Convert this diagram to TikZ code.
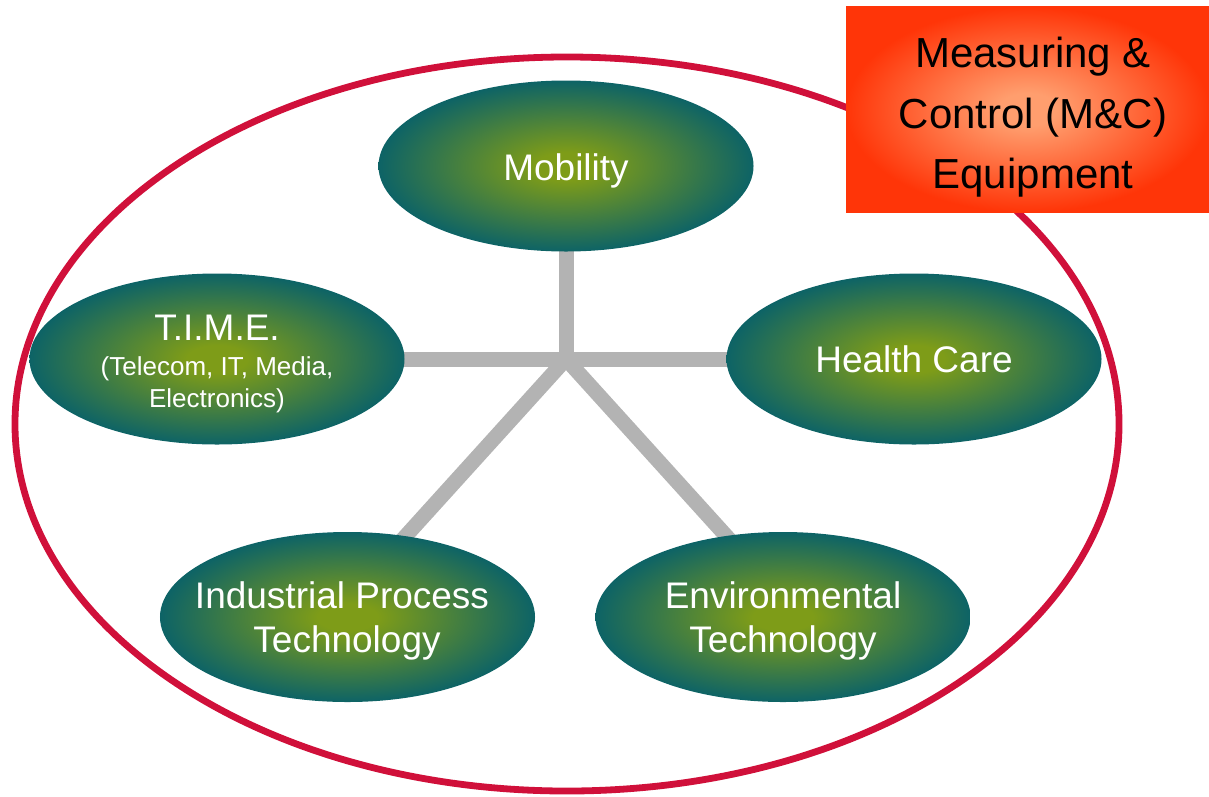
\documentclass[tikz,border=0pt]{standalone}
\usepackage{fontspec}
\setmainfont{Liberation Sans}
\usetikzlibrary{shapes.geometric,backgrounds}
\definecolor{ringred}{HTML}{D0103A}
\definecolor{spokegray}{HTML}{B3B3B3}
\definecolor{gin}{HTML}{7E9C18}
\definecolor{gout}{HTML}{0D6366}
\definecolor{bin}{HTML}{FF9E6E}
\definecolor{bout}{HTML}{FF3508}
\pgfdeclareradialshading{blobshade}{\pgfpoint{0bp}{0bp}}{color(0bp)=(gin); color(4bp)=(gin); color(25bp)=(gout); color(50bp)=(gout)}
\pgfdeclareradialshading{boxshade}{\pgfpoint{0bp}{0bp}}{color(0bp)=(bin); color(4bp)=(bin); color(25bp)=(bout); color(50bp)=(bout)}
\newcommand{\bigtxt}{\fontsize{18.5bp}{22bp}\selectfont}
\newcommand{\smalltxt}{\fontsize{13bp}{16bp}\selectfont}
\newcommand{\boxtxt}{\fontsize{21bp}{30bp}\selectfont}
\begin{document}
\begin{tikzpicture}[x=0.5bp, y=-0.5bp,
  blob/.style={ellipse, minimum width=187.5bp, minimum height=85.5bp, inner sep=0pt, shading=blobshade, shade},
  wtxt/.style={anchor=base, inner sep=0pt, text=white, font=\bigtxt},
  stxt/.style={anchor=base, inner sep=0pt, text=white, font=\smalltxt},
  btxt/.style={anchor=base, inner sep=0pt, text=black, font=\boxtxt},
  spokeline/.style={draw=spokegray, line width=7.5bp, line cap=butt},
  ringline/.style={draw=ringred, line width=3.4bp}]
\useasboundingbox (0,0) rectangle (1209,796);
% outer ring
\node[ringline, ellipse, minimum width=552bp, minimum height=367bp, inner sep=0pt] (ring) at (567,424) {};
% focus areas
\node[blob] (mob) at (566,166) {};
\node[blob] (time) at (217,359) {};
\node[blob] (health) at (914,359) {};
\node[blob, minimum height=85bp] (ind) at (347.5,617) {};
\node[blob, minimum height=85bp] (env) at (783,617) {};
% hub and spoke ends
\coordinate (hub) at (566,359);
\coordinate (ie) at (384,560);
\coordinate (ee) at (748,560);
\begin{pgfonlayer}{background}
  \draw[spokeline] (mob.center) -- (hub);
  \draw[spokeline] (time.center) -- (health.center);
  \draw[spokeline] (hub) -- (ie);
  \draw[spokeline] (hub) -- (ee);
\end{pgfonlayer}
% texts
\node[wtxt] (mobT) at (566,180) {Mobility};
\node[wtxt] (timeT) at (217,340) {T.I.M.E.};
\node[stxt] (timeS1) at (217,375) {(Telecom, IT, Media,};
\node[stxt] (timeS2) at (217,407) {Electronics)};
\node[wtxt] (healthT) at (914,372) {Health Care};
\node[wtxt] (indT1) at (342,608) {Industrial Process};
\node[wtxt] (indT2) at (347,652) {Technology};
\node[wtxt] (envT1) at (783,608) {Environmental};
\node[wtxt] (envT2) at (783,652) {Technology};
% M&C box
\node[rectangle, minimum width=181.5bp, minimum height=102.5bp, inner sep=0pt, shading=boxshade, shade] (mc) at (1027.5,109.5) {};
\node[btxt] (mcT1) at (1033,67) {Measuring \&};
\node[btxt] (mcT2) at (1033,128) {Control (M\&C)};
\node[btxt] (mcT3) at (1033,188) {Equipment};
\end{tikzpicture}
\end{document}
